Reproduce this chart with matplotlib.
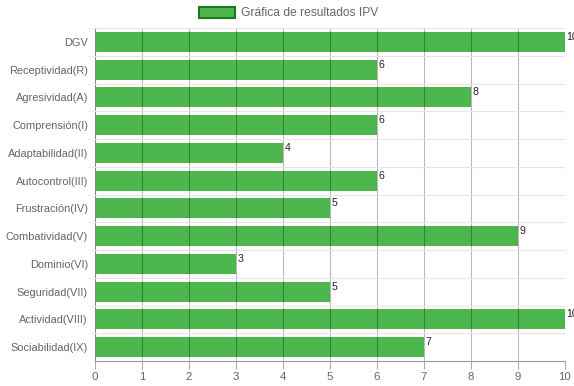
import matplotlib.pyplot as plt
from matplotlib.patches import Patch

categories = ['DGV', 'Receptividad(R)', 'Agresividad(A)', 'Comprensión(I)',
              'Adaptabilidad(II)', 'Autocontrol(III)', 'Frustración(IV)',
              'Combatividad(V)', 'Dominio(VI)', 'Seguridad(VII)',
              'Actividad(VIII)', 'Sociabilidad(IX)']
values = [10, 6, 8, 6, 4, 6, 5, 9, 3, 5, 10, 7]
xticks = list(range(0, 11))

plt.rcParams['font.family'] = ['Liberation Sans', 'DejaVu Sans']
px = 72 / 100

fig = plt.figure(figsize=(5.74, 3.86), dpi=100)
ax = fig.add_axes([95 / 574, 1 - 361 / 386, 470 / 574, 333 / 386])

pos = list(range(len(categories)))
ax.barh(pos, values, height=0.72, color='#4db64d', zorder=2)
for y, v in zip(pos, values):
    ax.text(v + 0.03, y - 0.36, str(v), fontsize=10.5 * px, color='#222222',
            ha='left', va='top', zorder=4)

ax.set_xlim(0, 10)
ax.set_ylim(len(categories) - 0.5, -0.5)
ax.set_xticks(xticks)
ax.set_yticks(pos)
ax.set_yticklabels(categories)
ax.set_yticks([p + 0.5 for p in pos[:-1]] + [-0.5], minor=True)

ax.set_axisbelow(False)
ax.grid(axis='x', color='black', alpha=0.28, linewidth=0.8, zorder=3)
ax.grid(axis='y', which='minor', color='#e6e6e6', linewidth=0.8, zorder=1)
ax.tick_params(axis='y', which='major', length=0, pad=5, labelsize=11 * px, labelcolor='#666666')
ax.tick_params(axis='y', which='minor', length=8 * px, color='#e6e6e6')
ax.tick_params(axis='x', length=8 * px, color='#aaaaaa', pad=2, labelsize=11.5 * px, labelcolor='#666666')
for s in ['top', 'right']:
    ax.spines[s].set_visible(False)
ax.spines['left'].set_color('#bbbbbb')
ax.spines['bottom'].set_color('#999999')

handle = Patch(facecolor='#4db64d', edgecolor='#1a7a1a', linewidth=1.5)
fig.legend([handle], ['Gráfica de resultados IPV'], loc='center', bbox_to_anchor=(0.502, 1 - 13 / 386),
           frameon=False, fontsize=12 * px, labelcolor='#666666', handlelength=3.0, handleheight=1.0,
           handletextpad=0.5)

fig.savefig('out.png', dpi=100)
